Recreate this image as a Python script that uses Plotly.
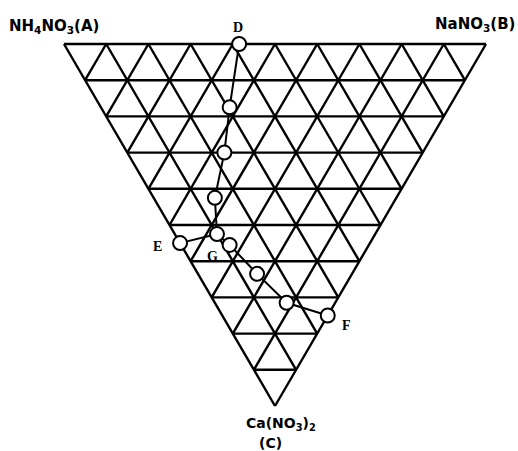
import plotly.graph_objects as go

# Compositions (mass %) of NH4NO3 (A), NaNO3 (B), Ca(NO3)2 (C)
# Branch D -> G
dg_a = [58.5, 52.0, 47.0, 43.0, 37.5]
dg_b = [41.5, 30.5, 23.0, 14.5, 10.0]
dg_c = [0.0, 17.5, 30.0, 42.5, 52.5]

# Branch E -> G
eg_a = [45.0, 37.5]
eg_b = [0.0, 10.0]
eg_c = [55.0, 52.5]

# Branch G -> F
gf_a = [37.5, 33.0, 22.5, 11.5, 0.0]
gf_b = [10.0, 11.5, 14.0, 17.0, 25.0]
gf_c = [52.5, 55.5, 63.5, 71.5, 75.0]

# Named points: label, (A, B, C)
point_names = ["D", "E", "G", "F"]
point_a = [58.5, 45.0, 37.5, 0.0]
point_b = [41.5, 0.0, 10.0, 25.0]
point_c = [0.0, 55.0, 52.5, 75.0]

n_div = 10


def to_xy(a, b, c):
    """Inverted triangle: A top-left, B top-right, C bottom vertex."""
    tot = a + b + c
    b_, c_ = b / tot, c / tot
    return b_ + c_ / 2.0, c_


def xy_lists(a_list, b_list, c_list):
    xs, ys = [], []
    for a, b, c in zip(a_list, b_list, c_list):
        x, y = to_xy(a, b, c)
        xs.append(x)
        ys.append(y)
    return xs, ys


fig = go.Figure()

# Grid and outline
gx, gy = [], []
for k in range(0, n_div):
    f = k / n_div
    for p, q in [((1 - f, 0, f), (0, 1 - f, f)),     # constant C
                 ((f, 1 - f, 0), (f, 0, 1 - f)),     # constant A
                 ((1 - f, f, 0), (0, f, 1 - f))]:    # constant B
        x0, y0 = to_xy(*p)
        x1, y1 = to_xy(*q)
        gx += [x0, x1, None]
        gy += [y0, y1, None]

fig.add_trace(go.Scatter(x=gx, y=gy, mode="lines",
                         line=dict(color="black", width=2.4),
                         hoverinfo="skip", showlegend=False))

# Tie lines between compositions
for a_l, b_l, c_l in [(dg_a, dg_b, dg_c), (eg_a, eg_b, eg_c), (gf_a, gf_b, gf_c)]:
    xs, ys = xy_lists(a_l, b_l, c_l)
    fig.add_trace(go.Scatter(x=xs, y=ys, mode="lines",
                             line=dict(color="black", width=2),
                             hoverinfo="skip", showlegend=False))

# Composition markers
all_a = dg_a + eg_a[:1] + gf_a[1:]
all_b = dg_b + eg_b[:1] + gf_b[1:]
all_c = dg_c + eg_c[:1] + gf_c[1:]
mx, my = xy_lists(all_a, all_b, all_c)
fig.add_trace(go.Scatter(x=mx, y=my, mode="markers",
                         marker=dict(size=14, color="white",
                                     line=dict(color="black", width=2)),
                         showlegend=False))

# Point letters
shifts = {"D": (-1, 17), "E": (-23, -3), "G": (-4, -22), "F": (19, -10)}
px, py = xy_lists(point_a, point_b, point_c)
for name, x, y in zip(point_names, px, py):
    dx, dy = shifts[name]
    fig.add_annotation(x=x, y=y, text=f"<b>{name}</b>", showarrow=False,
                       xshift=dx, yshift=dy,
                       font=dict(family="Liberation Serif", size=14, color="black"))

# Component labels
comp_font = dict(family="DejaVu Sans", size=15, color="black")
bottom_font = dict(family="DejaVu Sans", size=14, color="black")
fig.add_annotation(x=0, y=0, text="<b>NH<sub>4</sub>NO<sub>3</sub>(A)</b>",
                   showarrow=False, xshift=-10, yshift=18, font=comp_font)
fig.add_annotation(x=1, y=0, text="<b>NaNO<sub>3</sub>(B)</b>",
                   showarrow=False, xshift=-11, yshift=20, font=comp_font)
fig.add_annotation(x=0.5, y=1, text="<b>Ca(NO<sub>3</sub>)<sub>2</sub></b>",
                   showarrow=False, xshift=6, yshift=-18, font=bottom_font)
fig.add_annotation(x=0.5, y=1, text="<b>(C)</b>",
                   showarrow=False, xshift=-5, yshift=-37, font=bottom_font)

W, H = 518, 451
x0_px, side_px = 64, 422
y0_px, height_px = 44, 362
fig.update_layout(
    width=W, height=H,
    margin=dict(l=0, r=0, t=0, b=0),
    paper_bgcolor="white", plot_bgcolor="white",
    xaxis=dict(range=[-x0_px / side_px, (W - x0_px) / side_px],
               visible=False, fixedrange=True),
    yaxis=dict(range=[(H - y0_px) / height_px, -y0_px / height_px],
               visible=False, fixedrange=True),
    showlegend=False,
)

fig.write_html("out.html")
